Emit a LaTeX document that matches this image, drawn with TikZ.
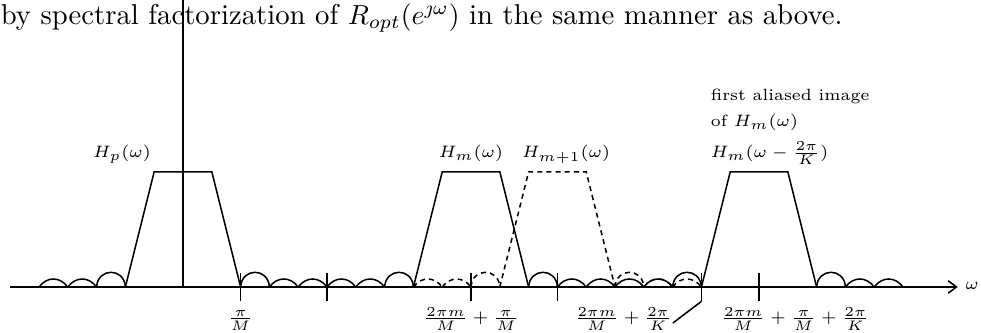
\documentclass[tikz,border=0pt]{standalone}
\usepackage{tikz}
\usetikzlibrary{arrows.meta}
\newcommand{\lobe}[2][]{\draw[#1] (#2,0) .. controls +(.28,.37) and +(-.28,.37) .. (#2+1,0);}
\newcommand{\biglobe}[2][]{\draw[#1] (#2,0) .. controls +(.04,.68) and +(-.04,.68) .. (#2+1,0);}
\newcommand{\passband}[2][]{\draw[#1] (#2-2,0)--(#2-1,4)--(#2+1,4)--(#2+2,0);}
\newcommand{\wtick}[1]{\draw (#1,-.5)--(#1,.5);}

\begin{document}
\begin{tikzpicture}[x=0.3668cm,y=0.3668cm,line width=.55pt,
  lbl/.style={font=\fontsize{5.6}{7}\selectfont,inner sep=0pt},
  note/.style={font=\fontsize{5.9}{7}\selectfont,inner sep=0pt},
  alias/.style={dash pattern=on 1.8pt off 1.5pt}]
\useasboundingbox (-6.354,-1.563) rectangle (27.708,9.965);
\node[anchor=base west,inner sep=0pt,font=\fontsize{10.4}{13}\selectfont] (prose) at (-6.354,9.13) {by spectral factorization of $R_{opt}(e^{\jmath\omega})$ in the same manner as above.};
% axes
\draw (0,0)--(0,10);
\draw[-{Straight Barb[length=3pt,width=4.5pt]}] (-6,0)--(26.9,0);
\node[lbl,anchor=base] (omega) at (27.4,-.08) {$\omega$};
% pass bands
\passband{0}\passband{10}\passband{20}
\passband[alias]{13}
% side lobes
\lobe{-5}\lobe{-4}\biglobe{-3}
\biglobe{2}\lobe{3}\lobe{4}\lobe{5}\lobe{6}\biglobe{7}
\biglobe{12}\lobe{13}\lobe{14}\lobe{15}\lobe{16}\biglobe{17}
\biglobe{22}\lobe{23}\lobe{24}
\lobe[alias]{8}\lobe[alias]{9}\biglobe[alias]{10}
\biglobe[alias]{15}\lobe[alias]{16}\lobe[alias]{17}
% ticks
\wtick{2}\wtick{5}\wtick{10}\wtick{13}\wtick{18}\wtick{20}
% labels
\node[lbl,anchor=base] (hp) at (-2.12,4.48) {$H_p(\omega)$};
\node[lbl,anchor=base] (hm) at (10,4.48) {$H_m(\omega)$};
\node[lbl,anchor=base] (hmn) at (13.3,4.48) {$H_{m+1}(\omega)$};
\node[note,anchor=base west] (img1) at (18.3,6.46) {first aliased image};
\node[note,anchor=base west] (img2) at (18.3,5.56) {of $H_m(\omega)$};
\node[lbl,anchor=base west] (img3) at (18.3,4.5) {$H_m(\omega-\frac{2\pi}{K})$};
\node[lbl,anchor=base] (wa) at (2,-1.25) {$\frac{\pi}{M}$};
\node[lbl,anchor=base] (wb) at (10,-1.25) {$\frac{2\pi m}{M}+\frac{\pi}{M}$};
\node[lbl,anchor=base] (wc) at (15.28,-1.25) {$\frac{2\pi m}{M}+\frac{2\pi}{K}$};
\node[lbl,anchor=base] (wd) at (21.25,-1.25) {$\frac{2\pi m}{M}+\frac{\pi}{M}+\frac{2\pi}{K}$};
\coordinate (ptr) at (17.01,-1.25);
\coordinate (edge) at (18,-.5);
\draw (ptr)--(edge);
\end{tikzpicture}
\end{document}
